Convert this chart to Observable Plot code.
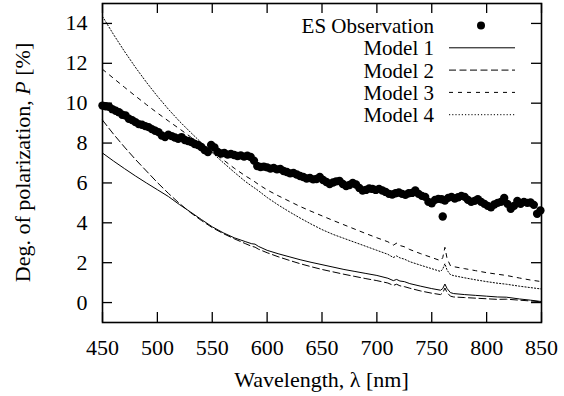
<!DOCTYPE html>
<html>
<head>
<meta charset="utf-8">
<script src="https://cdn.jsdelivr.net/npm/d3@7"></script>
<script src="https://cdn.jsdelivr.net/npm/@observablehq/plot@0.6"></script>
<style>
  html, body { margin: 0; padding: 0; background: #fff; }
  #chart { width: 564px; height: 396px; }
</style>
</head>
<body>
<div id="chart"></div>
<script>
// ---- Data ----
const xTicks = [450, 500, 550, 600, 650, 700, 750, 800, 850];
const yTicks = [0, 2, 4, 6, 8, 10, 12, 14];

const obsWavelength = [
  450,453,456,459,462,465,468,471,474,477,480,483,486,489,492,495,498,501,504,507,
  510,513,516,519,522,525,528,531,534,537,540,543,546,549,552,555,558,561,564,567,
  570,573,576,579,582,585,588,591,594,597,600,603,606,609,612,615,618,621,624,627,
  630,633,636,639,642,645,648,651,654,657,660,663,666,669,672,675,678,681,684,687,
  690,693,696,699,702,705,708,711,714,717,720,723,726,729,732,735,738,741,744,747,
  750,753,756,759,760,762,765,768,771,774,777,780,783,786,789,792,795,798,801,804,
  807,810,813,816,819,822,825,828,831,834,837,840,843,846,849
];
const obsPolarization = [
  9.88,9.85,9.82,9.70,9.62,9.55,9.42,9.38,9.22,9.15,9.05,8.95,8.92,8.85,8.80,8.70,8.62,8.55,8.38,8.30,
  8.42,8.35,8.28,8.22,8.30,8.15,8.10,8.05,7.95,7.90,7.80,7.65,7.55,7.90,7.78,7.55,7.48,7.50,7.42,7.45,
  7.40,7.35,7.38,7.32,7.36,7.30,7.12,6.85,6.80,6.82,6.78,6.72,6.75,6.68,6.70,6.60,6.55,6.48,6.50,6.42,
  6.35,6.30,6.22,6.25,6.18,6.20,6.30,6.15,6.05,5.95,6.02,6.08,6.10,5.95,5.85,5.90,6.00,5.92,5.75,5.62,
  5.65,5.72,5.70,5.65,5.70,5.62,5.55,5.45,5.42,5.48,5.52,5.45,5.40,5.48,5.50,5.62,5.45,5.35,5.30,5.05,
  4.98,5.15,5.20,5.18,4.32,5.12,5.25,5.30,5.22,5.28,5.35,5.30,5.15,5.05,5.10,5.18,5.05,4.95,4.85,4.78,
  4.92,5.00,5.05,5.25,4.95,4.70,4.85,5.10,4.95,5.05,5.00,5.02,4.90,4.45,4.62
];

const modelWavelength = [
  450,460,470,480,490,500,510,520,530,540,550,560,570,580,586,589,592,600,610,620,
  630,640,650,660,670,680,690,700,710,715,718,721,725,730,740,750,758,760,762,764,
  767,770,780,790,800,810,818,830,840,850
];
const model1 = [
  7.50,7.10,6.72,6.35,6.00,5.66,5.32,4.92,4.55,4.17,3.80,3.50,3.25,3.06,2.95,2.93,2.82,2.62,2.45,2.30,
  2.15,2.02,1.90,1.78,1.66,1.56,1.46,1.36,1.22,1.10,1.16,1.08,1.05,0.95,0.82,0.70,0.62,0.70,0.93,0.70,
  0.50,0.45,0.40,0.36,0.32,0.28,0.27,0.18,0.12,0.05
];
const model2 = [
  9.15,8.45,7.80,7.18,6.60,6.02,5.48,4.98,4.52,4.12,3.76,3.46,3.20,2.96,2.82,2.78,2.68,2.50,2.30,2.12,
  1.95,1.80,1.66,1.54,1.42,1.31,1.20,1.10,0.98,0.86,0.92,0.84,0.80,0.72,0.58,0.47,0.40,0.48,0.73,0.50,
  0.32,0.28,0.25,0.22,0.19,0.16,0.17,0.12,0.08,0.04
];
const model3 = [
  11.70,11.25,10.80,10.36,9.93,9.51,9.11,8.72,8.32,7.94,7.56,7.16,6.74,6.36,6.16,6.05,5.93,5.65,5.36,5.09,
  4.82,4.58,4.35,4.12,3.90,3.68,3.46,3.25,3.05,2.88,2.98,2.86,2.80,2.66,2.45,2.26,2.10,2.25,2.77,2.20,
  1.85,1.80,1.70,1.60,1.50,1.42,1.36,1.23,1.13,1.05
];
const model4 = [
  14.35,13.45,12.60,11.80,11.05,10.35,9.70,9.10,8.55,8.02,7.52,7.02,6.54,6.08,5.84,5.73,5.61,5.27,4.90,4.56,
  4.24,3.94,3.66,3.42,3.22,3.02,2.82,2.62,2.42,2.26,2.34,2.24,2.18,2.05,1.87,1.70,1.56,1.68,1.95,1.62,
  1.40,1.35,1.24,1.14,1.05,0.97,0.92,0.82,0.75,0.68
];

const seriesNames = ["ES Observation", "Model 1", "Model 2", "Model 3", "Model 4"];
const dashes = [null, null, "7,3.5", "4,5", "1.2,2"];

// ---- Tables ----
const obs = obsWavelength.map((w, i) => ({w, p: obsPolarization[i]}));
const models = [model1, model2, model3, model4].map(arr => modelWavelength.map((w, i) => ({w, p: arr[i]})));

const W = 564, H = 396;
const mL = 102, mR = 23, mT = 3, mB = 74;
const innerW = W - mL - mR, innerH = H - mT - mB;
const tickLen = 10;
const font = "Times New Roman";

const lineMarks = models.map((data, i) =>
  Plot.line(data, {x: "w", y: "p", stroke: "black", strokeWidth: 1, strokeDasharray: dashes[i + 1] || undefined})
);

const chart = Plot.plot({
  width: W, height: H,
  marginLeft: mL, marginRight: mR, marginTop: mT, marginBottom: mB,
  style: {fontFamily: font, fontSize: "22px", background: "white", color: "black", overflow: "visible"},
  x: {domain: [450, 850]},
  y: {domain: [-1, 15]},
  marks: [
    ...lineMarks,
    Plot.dot(obs, {x: "w", y: "p", r: 4.2, fill: "black", stroke: "none"}),
    Plot.axisX({ticks: xTicks, tickSize: 0, tickPadding: 17, label: null, fontSize: 22, fontFamily: font}),
    Plot.axisY({ticks: yTicks, tickSize: 0, tickPadding: 15, label: null, fontSize: 22, fontFamily: font}),
    Plot.tickX(xTicks, {x: d => d, insetTop: innerH - tickLen, stroke: "black", strokeWidth: 1.3}),
    Plot.tickX(xTicks, {x: d => d, insetBottom: innerH - tickLen, stroke: "black", strokeWidth: 1.3}),
    Plot.tickY(yTicks, {y: d => d, insetRight: innerW - tickLen, stroke: "black", strokeWidth: 1.3}),
    Plot.tickY(yTicks, {y: d => d, insetLeft: innerW - tickLen, stroke: "black", strokeWidth: 1.3}),
    Plot.frame({stroke: "black", strokeWidth: 1.6})
  ]
});

document.getElementById("chart").appendChild(chart);

// ---- Axis titles and legend ----
const svg = d3.select(chart);
svg.append("text")
  .attr("x", mL + innerW / 2).attr("y", 387)
  .attr("text-anchor", "middle")
  .attr("font-family", font)
  .attr("font-size", 22).attr("fill", "black")
  .text("Wavelength, λ [nm]");

const yl = svg.append("text")
  .attr("transform", `translate(30,${mT + innerH / 2}) rotate(-90)`)
  .attr("text-anchor", "middle")
  .attr("font-family", font)
  .attr("font-size", 22).attr("fill", "black");
yl.append("tspan").text("Deg. of polarization, ");
yl.append("tspan").attr("font-style", "italic").text("P");
yl.append("tspan").text(" [%]");

const legend = svg.append("g").attr("font-size", 21).attr("font-family", font);
seriesNames.forEach((name, i) => {
  const base = 33 + i * 22.3;
  legend.append("text")
    .attr("x", 434).attr("y", base)
    .attr("text-anchor", "end").attr("fill", "black")
    .attr("font-family", font)
    .text(name);
  const cy = base - 7.5;
  if (i === 0) {
    legend.append("circle").attr("cx", 481).attr("cy", cy).attr("r", 4).attr("fill", "black");
  } else {
    legend.append("line")
      .attr("x1", 449).attr("x2", 515).attr("y1", cy).attr("y2", cy)
      .attr("stroke", "black").attr("stroke-width", 1)
      .attr("stroke-dasharray", dashes[i] || null);
  }
});

chart.setAttribute("font-family", font);
chart.querySelectorAll("text").forEach(el => el.setAttribute("font-family", font));
</script>
</body>
</html>
